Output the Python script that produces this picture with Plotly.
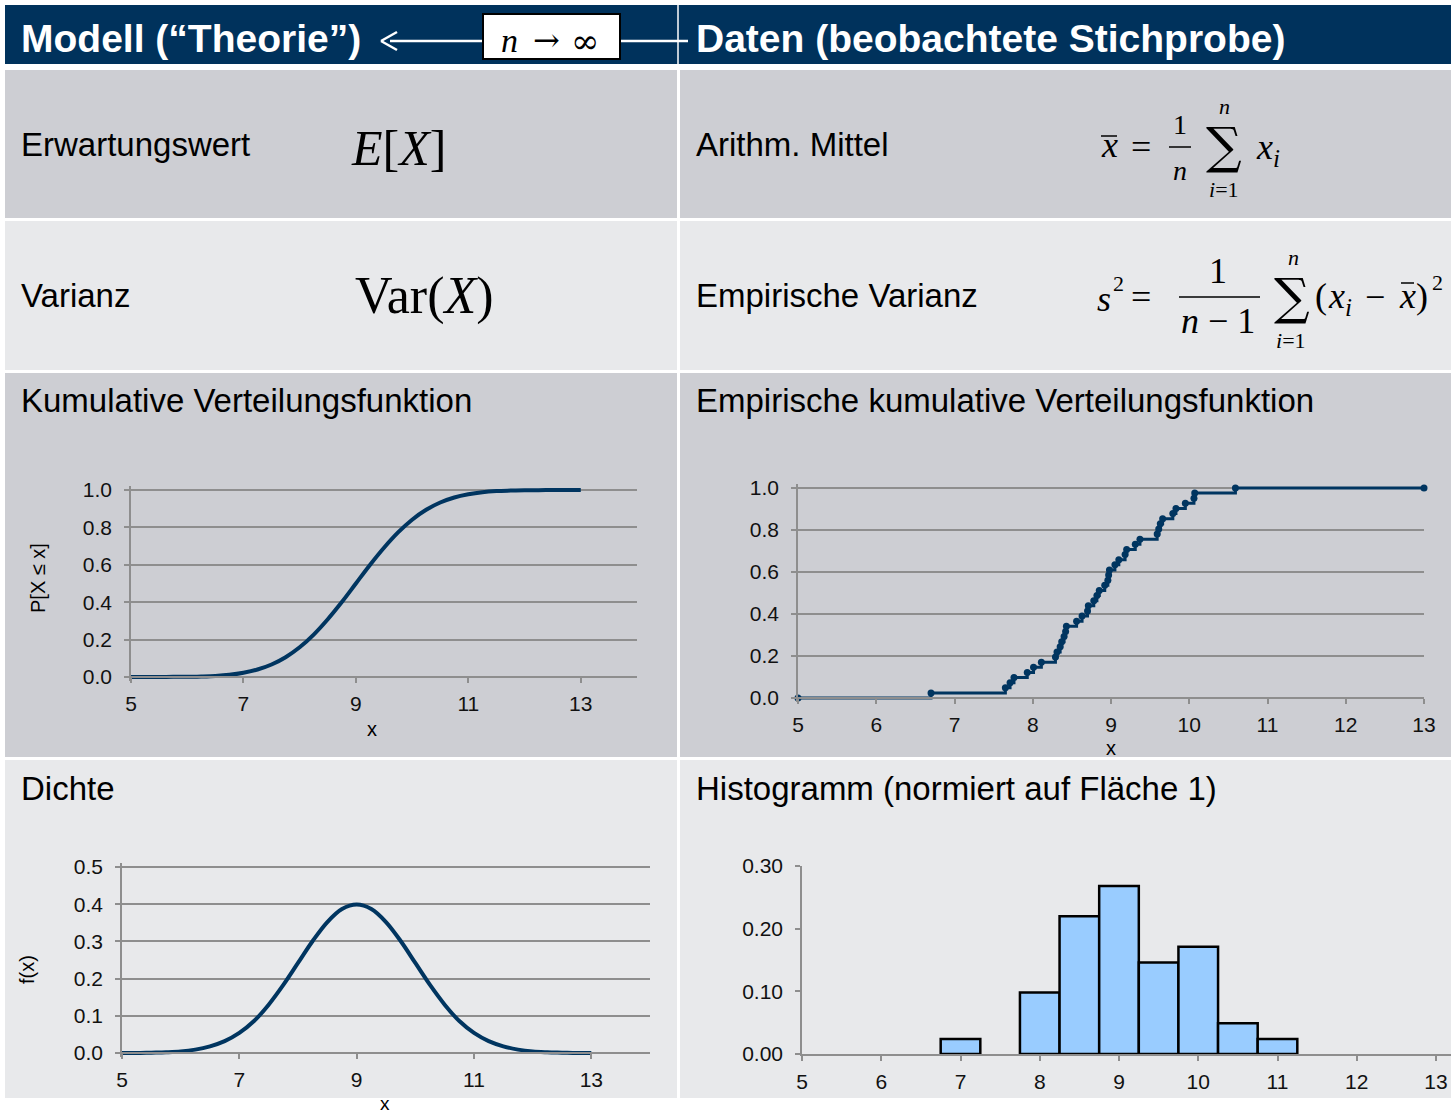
import plotly.graph_objects as go

W, H = 1451, 1114

# ---- data ----
grid_x = [5.0, 5.25, 5.5, 5.75, 6.0, 6.25, 6.5, 6.75, 7.0, 7.25, 7.5, 7.75,
          8.0, 8.25, 8.5, 8.75, 9.0, 9.25, 9.5, 9.75, 10.0, 10.25, 10.5, 10.75,
          11.0, 11.25, 11.5, 11.75, 12.0, 12.25, 12.5, 12.75, 13.0]
cdf_y = [0.000, 0.000, 0.000, 0.001, 0.001, 0.003, 0.006, 0.012, 0.023, 0.040,
         0.067, 0.106, 0.159, 0.227, 0.309, 0.401, 0.500, 0.599, 0.691, 0.773,
         0.841, 0.894, 0.933, 0.960, 0.977, 0.988, 0.994, 0.997, 0.999, 0.999,
         1.000, 1.000, 1.000]
pdf_y = [0.000, 0.000, 0.001, 0.002, 0.004, 0.009, 0.018, 0.032, 0.054, 0.086,
         0.130, 0.183, 0.242, 0.301, 0.352, 0.387, 0.399, 0.387, 0.352, 0.301,
         0.242, 0.183, 0.130, 0.086, 0.054, 0.032, 0.018, 0.009, 0.004, 0.002,
         0.001, 0.000, 0.000]

sample = [6.70, 7.65, 7.71, 7.76, 7.93, 8.01, 8.11, 8.29, 8.31, 8.35, 8.37,
          8.40, 8.42, 8.43, 8.56, 8.63, 8.70, 8.71, 8.78, 8.82, 8.85, 8.92,
          8.96, 8.97, 8.98, 9.05, 9.10, 9.18, 9.20, 9.31, 9.37, 9.59, 9.61,
          9.63, 9.66, 9.79, 9.83, 9.95, 10.06, 10.07, 10.59]

hist_centers = [7.0, 8.0, 8.5, 9.0, 9.5, 10.0, 10.5, 11.0]
hist_heights = [0.024, 0.098, 0.220, 0.268, 0.146, 0.171, 0.049, 0.024]

NAVY = "#003560"
HEAD = "#00325c"
GRAY = "#cdced3"
LIGHT = "#e8e9eb"
GRID = "#8e8e8e"
SANS = "Liberation Sans, Arial, sans-serif"
SERIF = "Liberation Serif, Times New Roman, serif"
DSERIF = "DejaVu Serif, serif"


def px(x):
    return x / W


def py(y):
    return 1 - y / H


shapes = []
annotations = []


def rect(x0, y0, x1, y1, color, line=None):
    shapes.append(dict(type="rect", xref="paper", yref="paper",
                       x0=px(x0), x1=px(x1), y0=py(y1), y1=py(y0),
                       fillcolor=color, layer="below",
                       line=line or dict(width=0)))


def seg(x0, y0, x1, y1, color="black", width=1.6, layer="above"):
    shapes.append(dict(type="line", xref="paper", yref="paper",
                       x0=px(x0), x1=px(x1), y0=py(y0), y1=py(y1),
                       line=dict(color=color, width=width), layer=layer))


def txt(x, y, s, size, family=SANS, color="black", xanchor="center", angle=0):
    annotations.append(dict(x=px(x), y=py(y), xref="paper", yref="paper",
                            text=s, showarrow=False, textangle=angle,
                            font=dict(size=size, family=family, color=color),
                            xanchor=xanchor, yanchor="middle", borderpad=0))


# ---- slide background panels ----
rect(5, 5, 1451, 64, HEAD)
rect(5, 70, 677, 218, GRAY)
rect(680, 70, 1451, 218, GRAY)
rect(5, 221, 677, 370, LIGHT)
rect(680, 221, 1451, 370, LIGHT)
rect(5, 373, 677, 757, GRAY)
rect(680, 373, 1451, 757, GRAY)
rect(5, 760, 677, 1098, LIGHT)
rect(680, 760, 1451, 1098, LIGHT)

# header
seg(678, 5, 678, 64, "white", 1.5)
txt(20, 38, "<b>Modell (“Theorie”)</b>", 39, color="white", xanchor="left")
txt(695, 38, "<b>Daten (beobachtete Stichprobe)</b>", 39, color="white", xanchor="left")
seg(390, 41, 483, 41, "white", 2.5)
seg(381, 41, 397, 32, "white", 2.5)
seg(381, 41, 397, 50, "white", 2.5)
seg(620, 41, 688, 41, "white", 2.5)
shapes.append(dict(type="rect", xref="paper", yref="paper",
                   x0=px(483), x1=px(620), y0=py(59), y1=py(14),
                   fillcolor="white", line=dict(color="black", width=2), layer="above"))
txt(510, 40, "<i>n</i>", 34, family=SERIF)
txt(546, 40, "→", 32, family=DSERIF)
txt(585, 41, "∞", 34, family=DSERIF)

# row labels
txt(20, 144, "Erwartungswert", 33, xanchor="left")
txt(695, 145, "Arithm. Mittel", 33, xanchor="left")
txt(20, 296, "Varianz", 33, xanchor="left")
txt(695, 296, "Empirische Varianz", 33, xanchor="left")
txt(20, 400, "Kumulative Verteilungsfunktion", 33, xanchor="left")
txt(695, 400, "Empirische kumulative Verteilungsfunktion", 33, xanchor="left")
txt(20, 788, "Dichte", 33, xanchor="left")
txt(695, 788, "Histogramm (normiert auf Fläche 1)", 33, xanchor="left")

# model formulas
txt(350, 148, "<i>E</i>[<i>X</i>]", 50, family=SERIF, xanchor="left")
txt(354, 296, "Var(<i>X</i>)", 52, family=SERIF, xanchor="left")

# x-bar formula
txt(1109, 145, "<i>x</i>", 36, family=SERIF)
seg(1101, 136, 1117, 136, "black", 1.5)
txt(1141, 147, "=", 36, family=SERIF)
txt(1180, 124, "1", 28, family=SERIF)
seg(1169, 147, 1191, 147, "black", 1.5)
txt(1180, 170, "<i>n</i>", 28, family=SERIF)
txt(1224, 146, "∑", 50, family=DSERIF)
txt(1224, 107, "<i>n</i>", 22, family=SERIF)
txt(1224, 190, "<i>i</i>=1", 22, family=SERIF)
txt(1255, 149, "<i>x</i><sub><i>i</i></sub>", 36, family=SERIF, xanchor="left")

# s^2 formula
txt(1104, 299, "<i>s</i>", 36, family=SERIF)
txt(1118, 283, "2", 22, family=SERIF)
txt(1141, 297, "=", 36, family=SERIF)
txt(1218, 271, "1", 36, family=SERIF)
seg(1179, 297, 1260, 297, "black", 1.5)
txt(1218, 321, "<i>n</i> − 1", 36, family=SERIF)
txt(1292, 297, "∑", 50, family=DSERIF)
txt(1293, 257, "<i>n</i>", 22, family=SERIF)
txt(1291, 340, "<i>i</i>=1", 22, family=SERIF)
txt(1321, 296, "(", 36, family=SERIF)
txt(1327, 298, "<i>x</i><sub><i>i</i></sub>", 36, family=SERIF, xanchor="left")
txt(1375, 297, "−", 36, family=SERIF)
txt(1407, 296, "<i>x</i>", 36, family=SERIF)
seg(1401, 283, 1414, 283, "black", 1.5)
txt(1422, 296, ")", 36, family=SERIF)
txt(1437, 282, "2", 22, family=SERIF)

# axis titles
txt(38, 578, "P[X ≤ x]", 20, angle=-90)
txt(372, 729, "x", 20)
txt(1111, 748, "x", 20)
txt(27, 970, "f(x)", 20, angle=-90)
txt(385, 1103, "x", 19)

fig = go.Figure()

# cumulative distribution
fig.add_trace(go.Scatter(x=grid_x, y=cdf_y, mode="lines", line=dict(color=NAVY, width=4, shape="spline"),
                         xaxis="x", yaxis="y"))

# empirical cdf
n = len(sample)
ecdf_x = [5.0] + sample + [13.0]
ecdf_y = [0.0] + [(i + 1) / n for i in range(n)] + [1.0]
fig.add_trace(go.Scatter(x=ecdf_x, y=ecdf_y, mode="lines+markers", line=dict(color=NAVY, width=3, shape="hv"),
                         marker=dict(color=NAVY, size=7), cliponaxis=False, xaxis="x2", yaxis="y2"))

# density
fig.add_trace(go.Scatter(x=grid_x, y=pdf_y, mode="lines", line=dict(color=NAVY, width=4, shape="spline"),
                         xaxis="x3", yaxis="y3"))

# histogram
fig.add_trace(go.Bar(x=hist_centers, y=hist_heights, width=0.5,
                     marker=dict(color="#99ccff", line=dict(color="black", width=2.5)),
                     xaxis="x4", yaxis="y4"))

tickfont = dict(family=SANS, size=21, color="#111111")


def xax(x0, x1, ypos, rng, vals, anchor="free"):
    d = dict(domain=[px(x0), px(x1)], range=rng, tickvals=vals, showgrid=False, zeroline=False,
             showline=True, linecolor=GRID, linewidth=1.5, ticks="outside", ticklen=5, tickwidth=1.5,
             tickcolor=GRID, tickfont=tickfont, ticklabelstandoff=3, fixedrange=True, automargin=False)
    if anchor == "free":
        d.update(anchor="free", position=py(ypos))
    else:
        d.update(anchor=anchor)
    return d


def yax(ybot, ytop, v0, v1, pad, vals, fmt, anchor, grid=True):
    unit = (ybot - ytop) / (v1 - v0)
    return dict(domain=[py(ybot + pad), py(ytop - pad)], range=[v0 - pad / unit, v1 + pad / unit],
                tickvals=vals, tickformat=fmt, showgrid=grid, gridcolor=GRID, gridwidth=1.5, zeroline=False,
                showline=True, linecolor=GRID, linewidth=1.5, ticks="outside", ticklen=5, tickwidth=1.5,
                tickcolor=GRID, tickfont=tickfont, ticklabelstandoff=8, anchor=anchor, fixedrange=True,
                automargin=False)


fig.update_layout(
    width=W, height=H,
    margin=dict(l=0, r=0, t=0, b=0, pad=0, autoexpand=False),
    paper_bgcolor="white", plot_bgcolor="rgba(0,0,0,0)",
    showlegend=False,
    shapes=shapes, annotations=annotations,
    xaxis=xax(131, 637, 677, [5, 14], [5, 7, 9, 11, 13]),
    yaxis=yax(677, 490, 0, 1, 4, [0, 0.2, 0.4, 0.6, 0.8, 1.0], ".1f", "x"),
    xaxis2=xax(798, 1424, 698, [5, 13], list(range(5, 14))),
    yaxis2=yax(698, 488, 0, 1, 4, [0, 0.2, 0.4, 0.6, 0.8, 1.0], ".1f", "x2"),
    xaxis3=xax(122, 650, 1053, [5, 14], [5, 7, 9, 11, 13]),
    yaxis3=yax(1053, 867, 0, 0.5, 4, [0, 0.1, 0.2, 0.3, 0.4, 0.5], ".1f", "x3"),
    xaxis4=xax(802, 1451, 1054, [5, 5 + 649 / 79.25], list(range(5, 14)), anchor="y4"),
    yaxis4=yax(1054, 866, 0, 0.3, 0, [0, 0.1, 0.2, 0.3], ".2f", "x4", grid=False),
)

fig.write_html("out.html", config={"displayModeBar": False},
               post_script="document.body.style.margin='0px';document.body.style.overflow='hidden';")
